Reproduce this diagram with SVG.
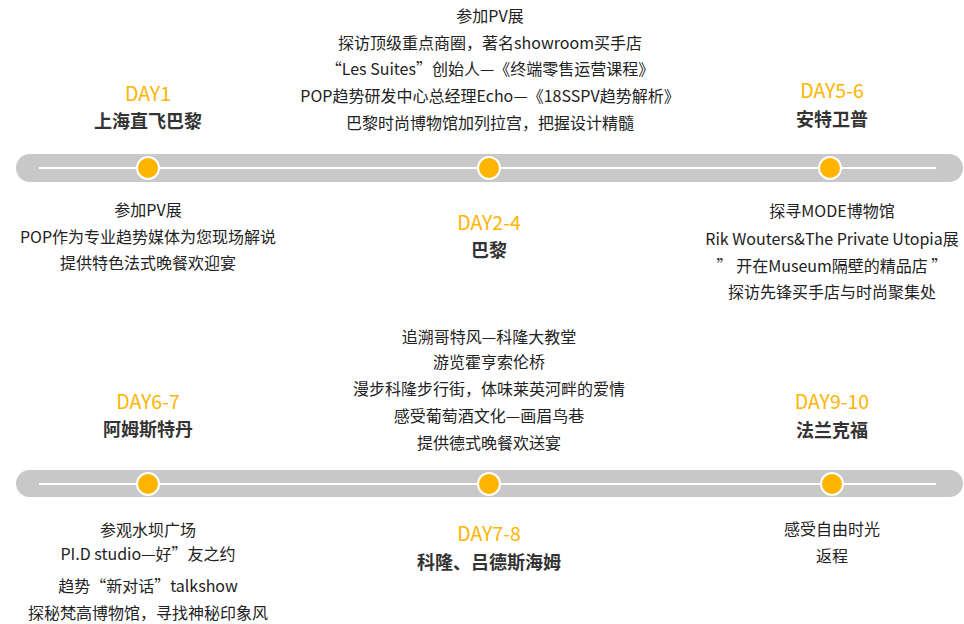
<svg xmlns="http://www.w3.org/2000/svg" width="964" height="624" viewBox="0 0 964 624">
<style>
text{font-family:"Microsoft YaHei","Noto Sans CJK SC","Noto Sans",sans-serif;text-anchor:middle;}
.b{font-size:16px;fill:#222;}
.d{font-size:19.5px;fill:#FFB400;}
.t{font-size:18px;font-weight:bold;fill:#333;}
.bar{fill:#C8C8C8;}
.ln{stroke:#fff;stroke-width:2;}
.dot{fill:#FFB400;stroke:#fff;stroke-width:2;}
</style>
<rect width="964" height="624" fill="#fff"/>
<g id="connectors">
<rect class="bar" x="16" y="154" width="947" height="28" rx="14"/>
<line class="ln" x1="39" y1="168" x2="936" y2="168"/>
<rect class="bar" x="16" y="470" width="947" height="27" rx="13.5"/>
<line class="ln" x1="39" y1="484" x2="936" y2="484"/>
</g>
<g id="dots">
<circle class="dot" cx="148" cy="168" r="11"/>
<circle class="dot" cx="489" cy="168" r="11"/>
<circle class="dot" cx="830" cy="168" r="11"/>
<circle class="dot" cx="148" cy="484" r="11"/>
<circle class="dot" cx="489" cy="484" r="11"/>
<circle class="dot" cx="832" cy="484" r="11"/>
</g>
<g id="day1">
<text class="d" x="148" y="101">DAY1</text>
<text class="t" x="148" y="128">上海直飞巴黎</text>
<text class="b" x="148" y="216">参加PV展</text>
<text class="b" x="148" y="243">POP作为专业趋势媒体为您现场解说</text>
<text class="b" x="148" y="269">提供特色法式晚餐欢迎宴</text>
</g>
<g id="day2-4">
<text class="b" x="490" y="22">参加PV展</text>
<text class="b" x="490" y="49">探访顶级重点商圈，著名showroom买手店</text>
<text class="b" x="490" y="75">“Les Suites”创始人—《终端零售运营课程》</text>
<text class="b" x="490" y="102">POP趋势研发中心总经理Echo—《18SSPV趋势解析》</text>
<text class="b" x="490" y="129">巴黎时尚博物馆加列拉宫，把握设计精髓</text>
<text class="d" x="489" y="230">DAY2-4</text>
<text class="t" x="489" y="257">巴黎</text>
</g>
<g id="day5-6">
<text class="d" x="832" y="98">DAY5-6</text>
<text class="t" x="832" y="126">安特卫普</text>
<text class="b" x="832" y="217">探寻MODE博物馆</text>
<text class="b" x="832" y="245">Rik Wouters&amp;The Private Utopia展</text>
<text class="b" x="832" y="272">” 开在Museum隔壁的精品店 ”</text>
<text class="b" x="832" y="298">探访先锋买手店与时尚聚集处</text>
</g>
<g id="day6-7">
<text class="d" x="148" y="409">DAY6-7</text>
<text class="t" x="148" y="436">阿姆斯特丹</text>
<text class="b" x="148" y="536">参观水坝广场</text>
<text class="b" x="148" y="560">PI.D studio—好”友之约</text>
<text class="b" x="148" y="592">趋势“新对话”talkshow</text>
<text class="b" x="148" y="619">探秘梵高博物馆，寻找神秘印象风</text>
</g>
<g id="day7-8">
<text class="b" x="489" y="343">追溯哥特风—科隆大教堂</text>
<text class="b" x="489" y="368">游览霍亨索伦桥</text>
<text class="b" x="489" y="395">漫步科隆步行街，体味莱英河畔的爱情</text>
<text class="b" x="489" y="422">感受葡萄酒文化—画眉鸟巷</text>
<text class="b" x="489" y="449">提供德式晚餐欢送宴</text>
<text class="d" x="489" y="541">DAY7-8</text>
<text class="t" x="489" y="569">科隆、吕德斯海姆</text>
</g>
<g id="day9-10">
<text class="d" x="832" y="409">DAY9-10</text>
<text class="t" x="832" y="437">法兰克福</text>
<text class="b" x="832" y="535">感受自由时光</text>
<text class="b" x="832" y="562">返程</text>
</g>
</svg>
